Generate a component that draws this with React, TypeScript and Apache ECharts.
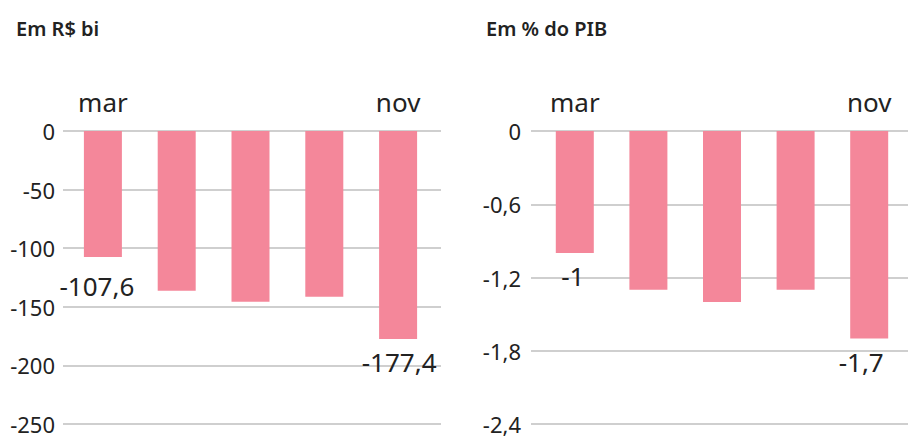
import React, { useEffect, useRef } from "react";
import * as echarts from "echarts";

const categories = ["mar", "mai", "jul", "set", "nov"];
const valuesBi = [-107.6, -136.3, -145.6, -141.4, -177.4];
const valuesPib = [-1.0, -1.3, -1.4, -1.3, -1.7];
const titleBi = "Em R$ bi";
const titlePib = "Em % do PIB";
const yTicksBi = { min: -250, max: 0, interval: 50 };
const yTicksPib = { min: -2.4, max: 0, interval: 0.6 };

const FONT = "'Noto Sans', sans-serif";
const TEXT = "#222222";
const BAR = "#F4879A";
const GRIDLINE = "#BFBFBF";

const fmt = (v: number) => {
  const r = Math.round(v * 10) / 10;
  return String(r).replace(".", ",");
};

export default function App() {
  const ref = useRef<HTMLDivElement>(null);
  useEffect(() => {
    if (!ref.current) return;
    const chart = echarts.init(ref.current, undefined, { renderer: "svg" });
    const last = categories.length - 1;

    const labelFor = (i: number, offsets: number[][]) =>
      i === 0 || i === last
        ? {
            show: true,
            position: "bottom",
            distance: 10,
            offset: i === 0 ? offsets[0] : offsets[1],
            fontSize: 26,
            fontFamily: FONT,
            color: TEXT,
            formatter: (p: any) => fmt(p.value),
          }
        : { show: false };

    const offsetsBi = [[-6, 6], [1, 0]];
    const offsetsPib = [[-2, 0], [-8, 0]];

    const yLineAxis = (grid: number, t: any, margin: number) => ({
      type: "value",
      gridIndex: grid,
      min: t.min,
      max: t.max,
      interval: t.interval,
      axisLine: { show: false },
      axisTick: { show: false },
      axisLabel: {
        fontSize: 22,
        fontFamily: FONT,
        color: TEXT,
        margin,
        formatter: (v: number) => fmt(v),
      },
      splitLine: { show: true, lineStyle: { color: GRIDLINE, width: 1.6 } },
    });
    const yBarAxis = (grid: number, t: any) => ({
      type: "value",
      gridIndex: grid,
      min: t.min,
      max: t.max,
      interval: t.interval,
      show: false,
      splitLine: { show: false },
    });
    const xHidden = (grid: number) => ({
      type: "category",
      gridIndex: grid,
      data: categories,
      show: false,
    });
    const xBar = (grid: number) => ({
      type: "category",
      gridIndex: grid,
      data: categories,
      position: "top",
      axisLine: { show: false },
      axisTick: { show: false },
      axisLabel: {
        interval: 0,
        fontSize: 26,
        fontFamily: FONT,
        color: TEXT,
        margin: 16,
        formatter: (v: string, i: number) => (i === 0 || i === last ? v : ""),
      },
    });

    const titleStyle = { fontSize: 20, fontWeight: 600, fontFamily: FONT, color: TEXT };

    chart.setOption({
      animation: false,
      title: [
        { text: titleBi, left: 11, top: 13, textStyle: titleStyle },
        { text: titlePib, left: 481, top: 13, textStyle: titleStyle },
      ],
      grid: [
        { left: 63, width: 378, top: 131, height: 293 },
        { left: 66, width: 369, top: 131, height: 293 },
        { left: 531, width: 377, top: 131, height: 293 },
        { left: 538, width: 368, top: 131, height: 293 },
      ],
      xAxis: [xHidden(0), xBar(1), xHidden(2), xBar(3)],
      yAxis: [
        yLineAxis(0, yTicksBi, 8),
        yBarAxis(1, yTicksBi),
        yLineAxis(2, yTicksPib, 10),
        yBarAxis(3, yTicksPib),
      ],
      series: [
        {
          type: "bar",
          xAxisIndex: 1,
          yAxisIndex: 1,
          barWidth: 38,
          itemStyle: { color: BAR },
          data: valuesBi.map((v, i) => ({ value: v, label: labelFor(i, offsetsBi) })),
        },
        {
          type: "bar",
          xAxisIndex: 3,
          yAxisIndex: 3,
          barWidth: 38,
          itemStyle: { color: BAR },
          data: valuesPib.map((v, i) => ({ value: v, label: labelFor(i, offsetsPib) })),
        },
      ],
    });
    return () => chart.dispose();
  }, []);
  return (
    <div
      ref={ref}
      style={{ position: "fixed", left: 0, top: 0, width: 908, height: 438, background: "#fff" }}
    />
  );
}
